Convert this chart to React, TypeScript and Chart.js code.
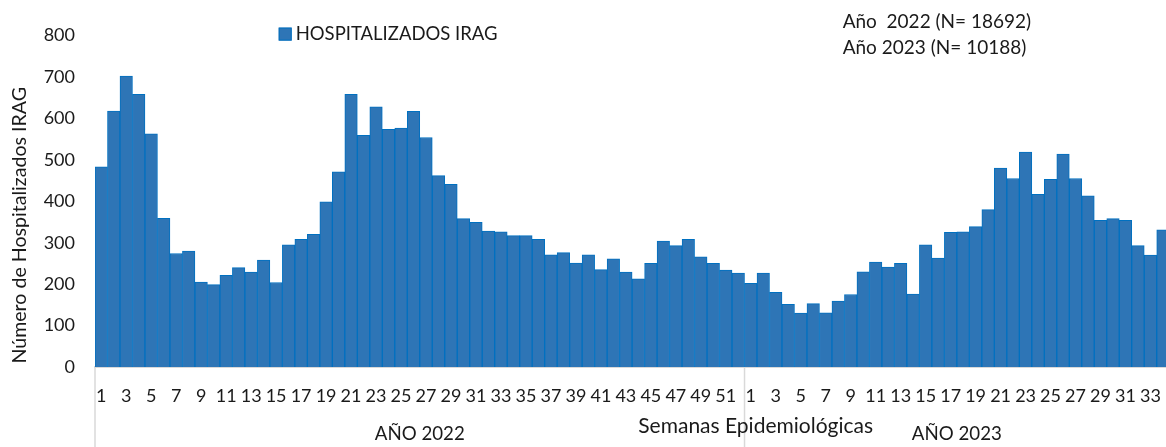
import React, { useEffect, useRef } from 'react';
import { Chart, registerables } from 'chart.js';
Chart.register(...registerables);

const weeks2022 = ['1','2','3','4','5','6','7','8','9','10','11','12','13','14','15','16','17','18','19','20','21','22','23','24','25','26','27','28','29','30','31','32','33','34','35','36','37','38','39','40','41','42','43','44','45','46','47','48','49','50','51','52'];
const weeks2023 = ['1','2','3','4','5','6','7','8','9','10','11','12','13','14','15','16','17','18','19','20','21','22','23','24','25','26','27','28','29','30','31','32','33','34'];
const values2022 = [483,618,702,658,563,359,274,280,205,199,221,240,229,258,204,295,308,320,399,471,658,559,628,574,577,617,554,462,441,358,349,328,326,317,317,308,271,276,251,271,235,261,229,213,250,304,293,308,266,250,234,227];
const values2023 = [202,227,180,151,130,153,131,159,175,230,253,241,250,176,295,263,325,326,339,380,480,455,519,417,453,514,455,413,354,358,354,293,270,331];
const seriesName = 'HOSPITALIZADOS IRAG';
const yTitle = 'Número de Hospitalizados IRAG';
const xTitle = 'Semanas Epidemiológicas';
const groupLabels = ['AÑO 2022', 'AÑO 2023'];
const noteLines = ['Año  2022 (N= 18692)', 'Año 2023 (N= 10188)'];

const FONT = "Lato, 'Open Sans', sans-serif";
const TEXT = '#1a1a1a';
const FILL = '#2E75B6';
const EDGE = '#0070C0';
const GRID = '#D9D9D9';

export default function App() {
  const ref = useRef<HTMLCanvasElement | null>(null);
  useEffect(() => {
    if (!ref.current) return;
    const labels = [...weeks2022, ...weeks2023];
    const data = [...values2022, ...values2023];
    const n2022 = weeks2022.length;
    const extras = {
      id: 'extras',
      afterDraw(chart: any) {
        const ctx = chart.ctx;
        const ca = chart.chartArea;
        const xs = chart.scales.x;
        const w = ca.right - ca.left;
        ctx.save();
        // separators
        const step = xs.getPixelForValue(1) - xs.getPixelForValue(0);
        const sep0 = xs.getPixelForValue(0) - step / 2;
        const sep1 = xs.getPixelForValue(n2022 - 1) + step / 2;
        const endX = xs.getPixelForValue(labels.length - 1) + step / 2;
        ctx.strokeStyle = GRID;
        ctx.lineWidth = 1.5;
        for (const sx of [sep0, sep1]) {
          ctx.beginPath();
          ctx.moveTo(sx, ca.bottom);
          ctx.lineTo(sx, chart.height);
          ctx.stroke();
        }
        // group labels
        ctx.fillStyle = TEXT;
        ctx.font = `18.7px ${FONT}`;
        ctx.textAlign = 'center';
        ctx.textBaseline = 'middle';
        ctx.fillText(groupLabels[0], (sep0 + sep1) / 2, ca.bottom + 67);
        ctx.fillText(groupLabels[1], (sep1 + endX) / 2, ca.bottom + 67);
        // x title
        ctx.font = `21px ${FONT}`;
        ctx.fillText(xTitle, ca.left + w * 0.615, ca.bottom + 59);
        // y title
        ctx.font = `19.6px ${FONT}`;
        ctx.save();
        ctx.translate(20, (ca.top + ca.bottom) / 2 + 24);
        ctx.rotate(-Math.PI / 2);
        ctx.fillText(yTitle, 0, 0);
        ctx.restore();
        // legend
        ctx.fillStyle = FILL;
        ctx.strokeStyle = EDGE;
        ctx.lineWidth = 1;
        const lx = ca.left + w * 0.171;
        ctx.fillRect(lx, ca.top - 8, 13, 13);
        ctx.strokeRect(lx + 0.5, ca.top - 7.5, 12, 12);
        ctx.fillStyle = TEXT;
        ctx.textAlign = 'left';
        ctx.font = `18.5px ${FONT}`;
        ctx.fillText(seriesName, lx + 17, ca.top - 1.5);
        // notes
        ctx.font = `19px ${FONT}`;
        const nx = ca.left + w * 0.696;
        ctx.fillText(noteLines[0], nx, ca.top - 13.5);
        ctx.fillText(noteLines[1], nx, ca.top + 12.5);
        ctx.restore();
      },
    };
    const chart = new Chart(ref.current, {
      type: 'bar',
      data: {
        labels,
        datasets: [{
          label: seriesName,
          data,
          backgroundColor: FILL,
          borderColor: EDGE,
          borderWidth: 1,
          barPercentage: 1,
          categoryPercentage: 1,
        }],
      },
      options: {
        animation: false,
        responsive: true,
        maintainAspectRatio: false,
        layout: { padding: { top: 35.6, right: 5, left: 0, bottom: 0 } },
        plugins: { legend: { display: false }, tooltip: { enabled: false } },
        scales: {
          x: {
            grid: { display: false, drawTicks: false },
            border: { display: true, color: GRID, width: 2 },
            ticks: {
              autoSkip: false,
              maxRotation: 0,
              minRotation: 0,
              padding: 18,
              color: TEXT,
              font: { family: FONT, size: 18 },
              callback: function (this: any, value: any) {
                const l = this.getLabelForValue(value);
                return parseInt(l, 10) % 2 === 1 ? l : '';
              },
            },
            afterFit(scale: any) { scale.height = 80; },
          },
          y: {
            min: 0,
            max: 800,
            grid: { display: false, drawTicks: false },
            border: { display: false },
            ticks: {
              stepSize: 100,
              padding: 20,
              color: TEXT,
              font: { family: FONT, size: 18 },
            },
            afterFit(scale: any) { scale.width = 95; },
          },
        },
      },
      plugins: [extras],
    });
    return () => chart.destroy();
  }, []);
  return (
    <div style={{ position: 'absolute', left: 0, top: 0, width: 1166, height: 447, overflow: 'hidden', background: '#fff' }}>
      <div style={{ position: 'relative', width: 1181, height: 447 }}>
        <canvas ref={ref} />
      </div>
    </div>
  );
}
